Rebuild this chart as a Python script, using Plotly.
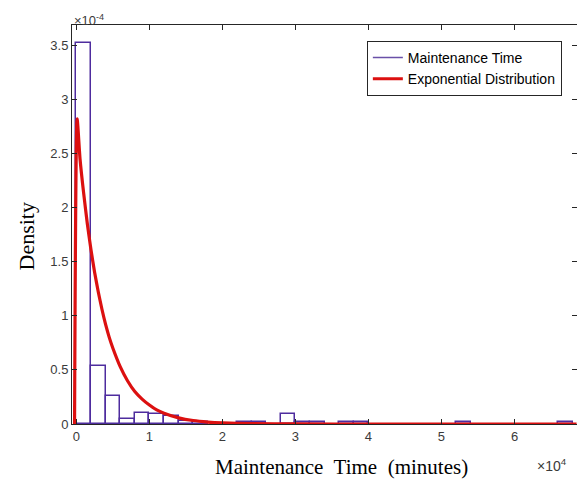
import plotly.graph_objects as go

# ---- data ----
bin_width = 2000  # minutes
bin_starts = [k * 2000 for k in range(34)]
density_e4 = [3.52, 0.54, 0.26, 0.05, 0.105, 0.088, 0.07, 0.032, 0.02, 0.0,
              0.0, 0.018, 0.018, 0.0, 0.09, 0.018, 0.018, 0.0, 0.018, 0.018,
              0.0, 0.0, 0.0, 0.0, 0.0, 0.0, 0.018, 0.0, 0.0, 0.0,
              0.0, 0.0, 0.0, 0.018]

curve_x = [-250, 100, 500, 1000, 1500, 2000, 2500, 3000, 3500, 4000, 4500, 5000,
           6000, 7000, 8000, 9000, 10000, 11000, 12000, 14000, 16000, 18000,
           20000, 24000, 30000, 40000, 68500]
curve_y_e4 = [0.0, 2.82, 2.45, 2.13, 1.85, 1.61, 1.40, 1.22, 1.06, 0.92, 0.80, 0.70,
              0.53, 0.40, 0.30, 0.23, 0.175, 0.13, 0.10, 0.057, 0.032, 0.018,
              0.010, 0.003, 0.0006, 0.0, 0.0]

x_tick_vals = [0, 10000, 20000, 30000, 40000, 50000, 60000]
x_tick_text = ["0", "1", "2", "3", "4", "5", "6"]
y_tick_vals = [0, 0.5e-4, 1e-4, 1.5e-4, 2e-4, 2.5e-4, 3e-4, 3.5e-4]
y_tick_text = ["0", "0.5", "1", "1.5", "2", "2.5", "3", "3.5"]

purple = "#4E2C9E"
red = "#DC1010"

# keep only non-empty bins
bx = [s + bin_width / 2 for s, d in zip(bin_starts, density_e4) if d > 0]
by = [d * 1e-4 for d in density_e4 if d > 0]

fig = go.Figure()
fig.add_trace(go.Bar(
    x=bx, y=by, width=bin_width,
    marker=dict(color="white", line=dict(color=purple, width=1.5)),
    showlegend=False, name="Maintenance Time",
))
fig.add_trace(go.Scatter(
    x=[None], y=[None], mode="lines", name="Maintenance Time",
    line=dict(color="#6A50A8", width=1.5),
))
fig.add_trace(go.Scatter(
    x=curve_x, y=[v * 1e-4 for v in curve_y_e4], mode="lines",
    name="Exponential Distribution",
    line=dict(color=red, width=3.2, shape="spline", smoothing=0.6),
))

axis_common = dict(
    showline=True, linecolor="#262626", linewidth=1, mirror="ticks",
    ticks="inside", ticklen=5, tickcolor="#262626",
    showgrid=False, zeroline=False, automargin=False,
    tickfont=dict(family="Liberation Sans, Arial", size=13, color="#3a3a3a"),
)

title_font = dict(family="Liberation Serif, Times New Roman", size=21, color="black")

fig.update_layout(
    width=577, height=475,
    margin=dict(l=64, r=8, t=17, b=59),
    paper_bgcolor="white", plot_bgcolor="white",
    bargap=0,
    xaxis=dict(range=[-600, 68560], tickvals=x_tick_vals, ticktext=x_tick_text,
               **axis_common),
    yaxis=dict(range=[0, 3.686e-4], tickvals=y_tick_vals, ticktext=y_tick_text,
               **axis_common),
    legend=dict(x=0.97, y=0.96, xanchor="right", yanchor="top",
                bordercolor="#262626", borderwidth=1, bgcolor="white",
                font=dict(family="Liberation Sans, Arial", size=14, color="black"),
                tracegroupgap=0, itemwidth=30),
    annotations=[
        dict(text="Maintenance\u00a0 Time\u00a0 (minutes)", xref="paper", yref="paper",
             x=0.5, y=0, xanchor="center", yanchor="middle", xshift=17, yshift=-43,
             showarrow=False, font=title_font),
        dict(text="Density", xref="paper", yref="paper", textangle=-90,
             x=0, y=0.5, xanchor="center", yanchor="middle", xshift=-46, yshift=-12,
             showarrow=False, font=dict(family="Liberation Serif, Times New Roman", size=22, color="black")),
        dict(text="\u00d710<sup>-4</sup>", xref="paper", yref="paper", x=0, y=1,
             xanchor="left", yanchor="bottom", showarrow=False, yshift=-5,
             font=dict(family="Liberation Sans, Arial", size=13, color="#3a3a3a")),
        dict(text="\u00d710<sup>4</sup>", xref="paper", yref="paper", x=0.985, y=0,
             xanchor="right", yanchor="top", showarrow=False, yshift=-30,
             font=dict(family="Liberation Sans, Arial", size=14, color="#3a3a3a")),
    ],
)

fig.write_html("out.html")
